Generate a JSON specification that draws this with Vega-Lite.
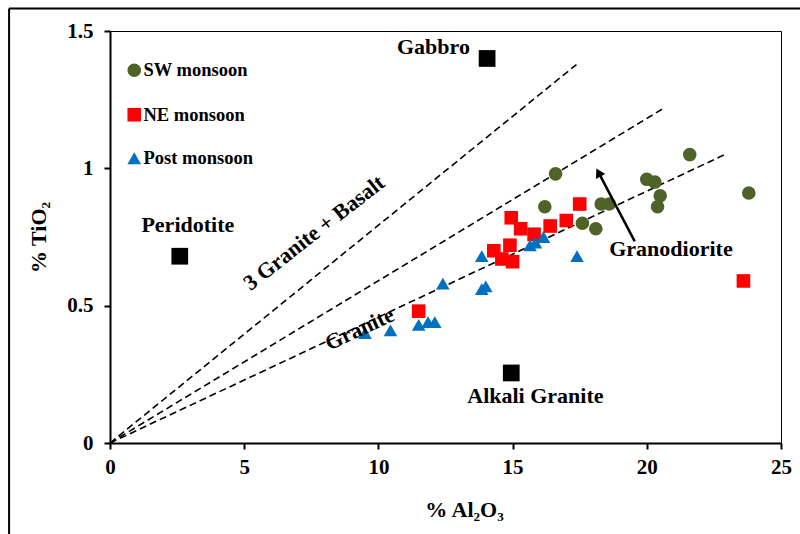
{
  "$schema": "https://vega.github.io/schema/vega-lite/v6.json",
  "width": 671,
  "height": 412,
  "autosize": {"type": "none"},
  "padding": {"left": 110, "top": 31, "right": 19, "bottom": 91},
  "background": "white",
  "config": {
    "font": "Liberation Serif",
    "view": {"stroke": "black", "strokeWidth": 1},
    "axis": {
      "labelFont": "Liberation Serif", "labelFontWeight": "bold", "labelFontSize": 21, "labelColor": "black", "labelFlush": false, "labelOverlap": false,
      "titleFont": "Liberation Serif", "titleFontWeight": "bold", "titleFontSize": 22, "titleColor": "black",
      "domainColor": "black", "domainWidth": 2, "tickColor": "black", "tickWidth": 2, "tickSize": 6, "grid": false
    }
  },
  "datasets": {
    "samples": [
      {"season": "SW monsoon", "al2o3": 16.6, "tio2": 0.98},
      {"season": "SW monsoon", "al2o3": 16.2, "tio2": 0.86},
      {"season": "SW monsoon", "al2o3": 17.6, "tio2": 0.80},
      {"season": "SW monsoon", "al2o3": 18.1, "tio2": 0.78},
      {"season": "SW monsoon", "al2o3": 18.3, "tio2": 0.87},
      {"season": "SW monsoon", "al2o3": 18.6, "tio2": 0.87},
      {"season": "SW monsoon", "al2o3": 20.0, "tio2": 0.96},
      {"season": "SW monsoon", "al2o3": 20.3, "tio2": 0.95},
      {"season": "SW monsoon", "al2o3": 20.5, "tio2": 0.90},
      {"season": "SW monsoon", "al2o3": 20.4, "tio2": 0.86},
      {"season": "SW monsoon", "al2o3": 21.6, "tio2": 1.05},
      {"season": "SW monsoon", "al2o3": 23.8, "tio2": 0.91},
      {"season": "NE monsoon", "al2o3": 11.5, "tio2": 0.48},
      {"season": "NE monsoon", "al2o3": 14.3, "tio2": 0.70},
      {"season": "NE monsoon", "al2o3": 14.6, "tio2": 0.67},
      {"season": "NE monsoon", "al2o3": 14.9, "tio2": 0.72},
      {"season": "NE monsoon", "al2o3": 15.0, "tio2": 0.66},
      {"season": "NE monsoon", "al2o3": 14.95, "tio2": 0.82},
      {"season": "NE monsoon", "al2o3": 15.3, "tio2": 0.78},
      {"season": "NE monsoon", "al2o3": 15.8, "tio2": 0.76},
      {"season": "NE monsoon", "al2o3": 16.4, "tio2": 0.79},
      {"season": "NE monsoon", "al2o3": 17.0, "tio2": 0.81},
      {"season": "NE monsoon", "al2o3": 17.5, "tio2": 0.87},
      {"season": "NE monsoon", "al2o3": 23.6, "tio2": 0.59},
      {"season": "Post monsoon", "al2o3": 9.5, "tio2": 0.40},
      {"season": "Post monsoon", "al2o3": 10.45, "tio2": 0.41},
      {"season": "Post monsoon", "al2o3": 11.5, "tio2": 0.43},
      {"season": "Post monsoon", "al2o3": 11.85, "tio2": 0.44},
      {"season": "Post monsoon", "al2o3": 12.1, "tio2": 0.44},
      {"season": "Post monsoon", "al2o3": 12.4, "tio2": 0.58},
      {"season": "Post monsoon", "al2o3": 13.85, "tio2": 0.68},
      {"season": "Post monsoon", "al2o3": 13.85, "tio2": 0.56},
      {"season": "Post monsoon", "al2o3": 14.0, "tio2": 0.57},
      {"season": "Post monsoon", "al2o3": 15.65, "tio2": 0.72},
      {"season": "Post monsoon", "al2o3": 15.85, "tio2": 0.73},
      {"season": "Post monsoon", "al2o3": 16.15, "tio2": 0.75},
      {"season": "Post monsoon", "al2o3": 17.4, "tio2": 0.68}
    ],
    "rocks": [
      {"rock": "Gabbro", "al2o3": 14.05, "tio2": 1.40},
      {"rock": "Peridotite", "al2o3": 2.6, "tio2": 0.68},
      {"rock": "Alkali Granite", "al2o3": 14.95, "tio2": 0.255}
    ],
    "labels": [
      {"text": "Gabbro", "al2o3": 12.05, "tio2": 1.44},
      {"text": "Peridotite", "al2o3": 2.9, "tio2": 0.795},
      {"text": "Alkali Granite", "al2o3": 15.85, "tio2": 0.17},
      {"text": "Granodiorite", "al2o3": 20.9, "tio2": 0.705}
    ],
    "trends": [
      {"line": "3 Granite + Basalt", "al2o3": 0, "tio2": 0},
      {"line": "3 Granite + Basalt", "al2o3": 17.38, "tio2": 1.378},
      {"line": "Mid", "al2o3": 0, "tio2": 0},
      {"line": "Mid", "al2o3": 20.6, "tio2": 1.217},
      {"line": "Granite", "al2o3": 0, "tio2": 0},
      {"line": "Granite", "al2o3": 22.97, "tio2": 1.053}
    ],
    "frame": [
      {"x1": -3.76, "y1": 1.582, "x2": 25.8, "y2": 1.582},
      {"x1": -3.76, "y1": 1.582, "x2": -3.76, "y2": -0.34}
    ],
    "arrow": [
      {"x1": 19.55, "y1": 0.734, "x2": 18.2, "y2": 0.985}
    ]
  },
  "layer": [
    {
      "data": {"name": "frame"},
      "mark": {"type": "rule", "color": "black", "strokeWidth": 2, "clip": false},
      "encoding": {
        "x": {"field": "x1", "type": "quantitative", "scale": {"domain": [0, 25], "nice": false, "zero": false}},
        "y": {"field": "y1", "type": "quantitative", "scale": {"domain": [0, 1.5], "nice": false, "zero": false}},
        "x2": {"field": "x2"},
        "y2": {"field": "y2"}
      }
    },
    {
      "data": {"name": "trends"},
      "mark": {"type": "line", "color": "black", "strokeWidth": 1.6, "strokeDash": [7, 4]},
      "encoding": {
        "x": {"field": "al2o3", "type": "quantitative", "scale": {"domain": [0, 25], "nice": false}, "axis": {"title": "% Al₂O₃", "values": [0, 5, 10, 15, 20, 25], "format": "~g", "labelPadding": 7, "titlePadding": 22, "titleX": 354}},
        "y": {"field": "tio2", "type": "quantitative", "scale": {"domain": [0, 1.5], "nice": false}, "axis": {"title": "% TiO₂", "values": [0, 0.5, 1, 1.5], "format": "~g", "labelPadding": 11, "titlePadding": 16}},
        "detail": {"field": "line"}
      }
    },
    {
      "data": {"name": "samples"},
      "mark": {"type": "point", "filled": true, "opacity": 1, "size": 185},
      "encoding": {
        "x": {"field": "al2o3", "type": "quantitative"},
        "y": {"field": "tio2", "type": "quantitative"},
        "color": {"field": "season", "type": "nominal", "scale": {"domain": ["SW monsoon", "NE monsoon", "Post monsoon"], "range": ["#4F6228", "#FF0000", "#0070C0"]},
          "legend": {"title": null, "orient": "none", "legendX": 15, "legendY": 30, "labelFont": "Liberation Serif", "labelFontWeight": "bold", "labelFontSize": 18.5, "labelColor": "black", "rowPadding": 23.5, "labelOffset": 0, "symbolSize": 185, "symbolOpacity": 1, "padding": 0}},
        "shape": {"field": "season", "type": "nominal", "scale": {"domain": ["SW monsoon", "NE monsoon", "Post monsoon"], "range": ["circle", "square", "triangle-up"]}}
      }
    },
    {
      "data": {"name": "rocks"},
      "mark": {"type": "point", "shape": "square", "filled": true, "color": "black", "opacity": 1, "size": 280},
      "encoding": {
        "x": {"field": "al2o3", "type": "quantitative"},
        "y": {"field": "tio2", "type": "quantitative"}
      }
    },
    {
      "data": {"name": "labels"},
      "mark": {"type": "text", "font": "Liberation Serif", "fontWeight": "bold", "fontSize": 22, "color": "black", "align": "center", "baseline": "middle"},
      "encoding": {
        "x": {"field": "al2o3", "type": "quantitative"},
        "y": {"field": "tio2", "type": "quantitative"},
        "text": {"field": "text"}
      }
    },
    {
      "data": {"values": [{"text": "3 Granite + Basalt", "al2o3": 7.6, "tio2": 0.765}]},
      "mark": {"type": "text", "font": "Liberation Serif", "fontWeight": "bold", "fontSize": 22, "color": "black", "align": "center", "baseline": "middle", "angle": 322},
      "encoding": {
        "x": {"field": "al2o3", "type": "quantitative"},
        "y": {"field": "tio2", "type": "quantitative"},
        "text": {"field": "text"}
      }
    },
    {
      "data": {"values": [{"text": "Granite", "al2o3": 9.3, "tio2": 0.415}]},
      "mark": {"type": "text", "font": "Liberation Serif", "fontWeight": "bold", "fontSize": 22, "color": "black", "align": "center", "baseline": "middle", "angle": 335},
      "encoding": {
        "x": {"field": "al2o3", "type": "quantitative"},
        "y": {"field": "tio2", "type": "quantitative"},
        "text": {"field": "text"}
      }
    },
    {
      "data": {"name": "arrow"},
      "mark": {"type": "rule", "color": "black", "strokeWidth": 2.5},
      "encoding": {
        "x": {"field": "x1", "type": "quantitative"},
        "y": {"field": "y1", "type": "quantitative"},
        "x2": {"field": "x2"},
        "y2": {"field": "y2"}
      }
    },
    {
      "data": {"name": "arrow"},
      "mark": {"type": "point", "shape": "triangle-up", "filled": true, "color": "black", "opacity": 1, "size": 110, "angle": 332},
      "encoding": {
        "x": {"field": "x2", "type": "quantitative"},
        "y": {"field": "y2", "type": "quantitative"}
      }
    }
  ]
}
